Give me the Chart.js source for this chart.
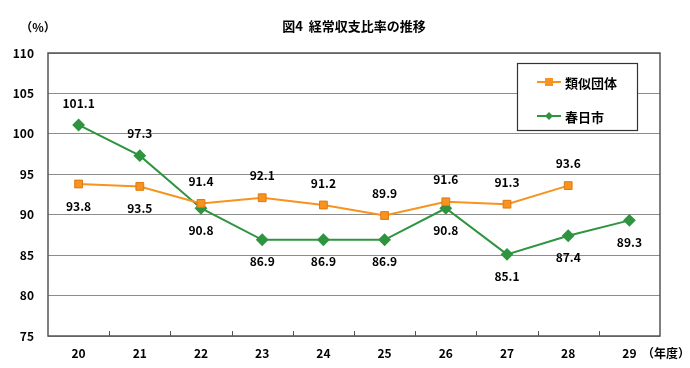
<!DOCTYPE html>
<html><head><meta charset="utf-8">
<script src="https://cdn.jsdelivr.net/npm/chart.js@4/dist/chart.umd.min.js"></script>
<style>html,body{margin:0;padding:0;background:#fff}#wrap{width:690px;height:368px}</style>
</head><body><div id="wrap"><canvas id="c"></canvas></div>
<script>
const categories = ['20','21','22','23','24','25','26','27','28','29'];
const similarGroup = [93.8, 93.5, 91.4, 92.1, 91.2, 89.9, 91.6, 91.3, 93.6, null];
const kasugaCity = [101.1, 97.3, 90.8, 86.9, 86.9, 86.9, 90.8, 85.1, 87.4, 89.3];
const similarLabelPos = ['below','below','above','above','above','above','above','above','above',null];
const kasugaLabelPos = ['above','above','below','below','below','below','below','below','below','below'];
const seriesNames = ['類似団体','春日市'];
const titleText = '図4  経常収支比率の推移';
const yUnit = '（%）';
const xUnit = '（年度）';
const FONT = '"Noto Sans CJK JP", "Liberation Sans", sans-serif';

const orange = '#f7931e', green = '#2e9440';

const deco = {
  id: 'deco',
  afterDatasetsDraw(chart) {
    const ctx = chart.ctx, a = chart.chartArea, x = chart.scales.x;
    ctx.save();
    ctx.strokeStyle = '#555'; ctx.lineWidth = 1.5;
    ctx.strokeRect(a.left, a.top, a.right - a.left, a.bottom - a.top);
    ctx.lineWidth = 1;
    for (let i = 1; i < categories.length; i++) {
      const px = (x.getPixelForValue(i - 1) + x.getPixelForValue(i)) / 2;
      ctx.beginPath(); ctx.moveTo(Math.round(px) + 0.5, a.bottom); ctx.lineTo(Math.round(px) + 0.5, a.bottom - 5); ctx.stroke();
    }
    ctx.fillStyle = '#000'; ctx.font = 'bold 12px ' + FONT; ctx.textAlign = 'center'; ctx.textBaseline = 'middle';
    const pos = [similarLabelPos, kasugaLabelPos];
    chart.data.datasets.forEach((ds, di) => {
      const meta = chart.getDatasetMeta(di);
      meta.data.forEach((pt, i) => {
        if (ds.data[i] == null) return;
        const dy = pos[di][i] === 'above' ? -22 : 22;
        ctx.fillText(ds.data[i].toFixed(1), pt.x, pt.y + dy);
      });
    });
    const lx = 517, ly = 63, lw = 120, lh = 67;
    ctx.fillStyle = '#fff'; ctx.fillRect(lx, ly, lw, lh);
    ctx.strokeStyle = '#333'; ctx.lineWidth = 1.2; ctx.strokeRect(lx + 0.5, ly + 0.5, lw, lh);
    chart.data.datasets.forEach((ds, di) => {
      const yy = ly + 19 + di * 34;
      ctx.strokeStyle = ds.borderColor; ctx.lineWidth = 2;
      ctx.beginPath(); ctx.moveTo(lx + 20, yy); ctx.lineTo(lx + 44, yy); ctx.stroke();
      ctx.fillStyle = ds.pointBackgroundColor;
      ctx.beginPath();
      if (di === 0) { ctx.rect(lx + 28, yy - 4, 8, 8); }
      else { ctx.moveTo(lx + 32, yy - 4); ctx.lineTo(lx + 36, yy); ctx.lineTo(lx + 32, yy + 4); ctx.lineTo(lx + 28, yy); ctx.closePath(); }
      ctx.fill();
      ctx.fillStyle = '#000'; ctx.font = 'bold 13px ' + FONT; ctx.textAlign = 'left';
      ctx.fillText(ds.label, lx + 48, yy + 1);
    });
    ctx.textAlign = 'center'; ctx.font = 'bold 13px ' + FONT; ctx.fillStyle = '#000';
    ctx.fillText(titleText, 354, 26);
    ctx.font = 'bold 12px ' + FONT;
    ctx.fillText(yUnit, 38, 27);
    ctx.textAlign = 'left';
    ctx.fillText(xUnit, 642, 353);
    ctx.restore();
  }
};

new Chart(document.getElementById('c'), {
  type: 'line',
  data: {
    labels: categories,
    datasets: [
      { label: seriesNames[0], data: similarGroup, borderColor: orange, backgroundColor: orange,
        pointBackgroundColor: orange, pointBorderColor: '#e07a10', pointBorderWidth: 1,
        pointStyle: 'rect', pointRadius: 5.5, borderWidth: 2, tension: 0, spanGaps: false },
      { label: seriesNames[1], data: kasugaCity, borderColor: green, backgroundColor: green,
        pointBackgroundColor: green, pointBorderColor: green,
        pointStyle: 'rectRot', pointRadius: 5, borderWidth: 2, tension: 0 }
    ]
  },
  options: {
    responsive: true, maintainAspectRatio: false, animation: false,
    layout: { padding: { top: 53, right: 30, bottom: 0, left: 10 } },
    plugins: { legend: { display: false }, title: { display: false }, tooltip: { enabled: false } },
    scales: {
      x: {
        offset: true,
        grid: { display: false, drawTicks: false },
        border: { display: false },
        ticks: { color: '#000', font: { family: FONT, size: 12, weight: 'bold' }, padding: 10, maxRotation: 0 },
        afterFit(s) { s.height = 32; }
      },
      y: {
        min: 75, max: 110,
        grid: { color: '#8c8c8c', lineWidth: 1, drawTicks: false },
        border: { display: false },
        ticks: { stepSize: 5, color: '#000', font: { family: FONT, size: 12, weight: 'bold' }, padding: 14 },
        afterFit(s) { s.width = 38; }
      }
    }
  },
  plugins: [deco]
});
</script></body></html>
